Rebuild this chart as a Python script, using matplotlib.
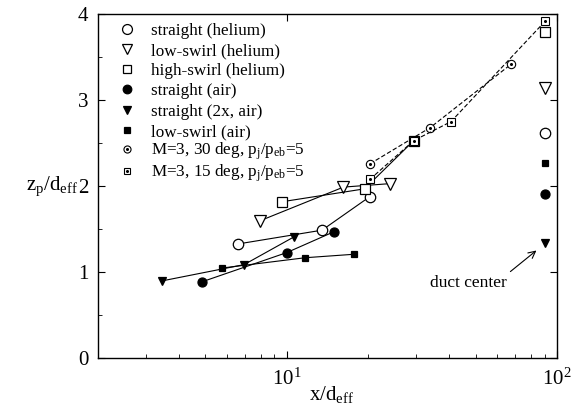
import matplotlib as mpl
mpl.use('Agg')
import matplotlib.pyplot as plt
from matplotlib.lines import Line2D

plt.rcParams['font.family'] = ['Liberation Serif', 'DejaVu Serif']
plt.rcParams['mathtext.fontset'] = 'custom'
plt.rcParams['mathtext.rm'] = 'Liberation Serif'
plt.rcParams['mathtext.it'] = 'Liberation Serif:italic'

# near-field penetration data (x/d_eff, z_p/d_eff)
x_straight_he = [6.6, 13.5, 20.3]
z_straight_he = [1.33, 1.49, 1.88]
x_lowswirl_he = [7.97, 16.2, 24.0]
z_lowswirl_he = [1.60, 1.99, 2.03]
x_highswirl_he = [9.6, 19.4, 29.5]
z_highswirl_he = [1.82, 1.97, 2.53]
x_straight_air = [4.85, 10.0, 14.9]
z_straight_air = [0.89, 1.23, 1.47]
x_straight2x_air = [3.44, 6.95, 10.6]
z_straight2x_air = [0.90, 1.09, 1.41]
x_lowswirl_air = [5.75, 11.7, 17.7]
z_lowswirl_air = [1.05, 1.17, 1.21]
x_m3_30 = [20.3, 33.9, 67.8]
z_m3_30 = [2.26, 2.68, 3.42]
x_m3_15 = [20.3, 29.5, 40.5, 90.6]
z_m3_15 = [2.08, 2.53, 2.75, 3.92]

# duct center values (same order as the first six series)
duct_x = 90.6
duct_z = [2.62, 3.14, 3.79, 1.91, 1.34, 2.27]

labels = ['straight (helium)', 'low-swirl (helium)', 'high-swirl (helium)',
          'straight (air)', 'straight (2x, air)', 'low-swirl (air)']
labels_m3 = [r'M=3, 30 deg, $\mathregular{p_j/p_{eb}}$=5',
             r'M=3, 15 deg, $\mathregular{p_j/p_{eb}}$=5']

fig = plt.figure(figsize=(5.74, 4.12), dpi=100)
ax = fig.add_axes([0.1707, 0.1299, 0.7997, 0.8361])

lw = 0.8
series = [
    (x_straight_he, z_straight_he, 'o', 'white', 7.5),
    (x_lowswirl_he, z_lowswirl_he, 'v', 'white', 8.0),
    (x_highswirl_he, z_highswirl_he, 's', 'white', 6.5),
    (x_straight_air, z_straight_air, 'o', 'black', 6.5),
    (x_straight2x_air, z_straight2x_air, 'v', 'black', 6.0),
    (x_lowswirl_air, z_lowswirl_air, 's', 'black', 5.0),
]
handles = []
for (xs, zs, m, fc, ms), dz in zip(series, duct_z):
    ax.plot(xs, zs, '-', color='black', lw=lw, marker=m, ms=ms,
            mfc=fc, mec='black', mew=0.9, zorder=3)
    ax.plot([duct_x], [dz], linestyle='none', marker=m, ms=ms,
            mfc=fc, mec='black', mew=0.9, zorder=3)
    handles.append(Line2D([], [], linestyle='none', marker=m, ms=ms * 0.95,
                          mfc=fc, mec='black', mew=0.9))

# M=3 cases: small open markers with a dot in the middle, dashed lines
handles_m3 = []
for xs, zs, m, ms in [(x_m3_30, z_m3_30, 'o', 6.0), (x_m3_15, z_m3_15, 's', 5.5)]:
    ax.plot(xs, zs, '--', color='black', lw=lw, dashes=(4, 2), marker=m, ms=ms,
            mfc='white', mec='black', mew=0.8, zorder=4)
    ax.plot(xs, zs, linestyle='none', marker='o', ms=1.2, color='black', zorder=5)
    h1 = Line2D([], [], linestyle='none', marker=m, ms=ms * 0.85, mfc='white',
                mec='black', mew=0.8)
    h2 = Line2D([], [], linestyle='none', marker='o', ms=1.2, color='black')
    handles_m3.append((h1, h2))

ax.set_xscale('log')
ax.set_xlim(2, 100)
ax.set_ylim(0, 4)
ax.set_yticks([0, 1, 2, 3, 4])
ax.set_yticks([0.5, 1.5, 2.5, 3.5], minor=True)
ax.set_xticks([10, 100])
ax.set_xticks([2, 3, 4, 5, 6, 7, 8, 9, 20, 30, 40, 50, 60, 70, 80, 90], minor=True)
ax.xaxis.set_minor_formatter(mpl.ticker.NullFormatter())

ax.tick_params(which='both', direction='in', labelsize=15, pad=7)
ax.tick_params(which='major', length=5, width=0.8, top=True, right=True)
ax.tick_params(which='minor', length=3, width=0.6)
for s in ax.spines.values():
    s.set_linewidth(1.0)

ax.set_xlabel(r'$\mathregular{x/d_{eff}}$', fontsize=15, va='top')
ax.xaxis.set_label_coords(0.508, -0.074)
ax.set_ylabel(r'$\mathregular{z_p/d_{eff}}$', fontsize=15, rotation=0,
              ha='center', va='center')
ax.yaxis.set_label_coords(-0.1, 0.5)

leg_kw = dict(loc='upper left', frameon=False, fontsize=12.3, borderpad=0,
              borderaxespad=0, handlelength=1.0, handletextpad=0.9)
leg1 = ax.legend(handles, labels, bbox_to_anchor=(0.045, 0.975),
                 labelspacing=0.25, **leg_kw)
ax.add_artist(leg1)
ax.legend(handles_m3, labels_m3, bbox_to_anchor=(0.045, 0.632),
          labelspacing=0.0, **leg_kw)

ax.annotate('duct center', xy=(83.9, 1.254), xytext=(46.9, 0.88),
            fontsize=12.5, ha='center', va='center',
            arrowprops=dict(arrowstyle='->', color='black', lw=0.8,
                            relpos=(1.0, 1.0), shrinkA=1, shrinkB=0))

fig.savefig('out.png', dpi=100)
